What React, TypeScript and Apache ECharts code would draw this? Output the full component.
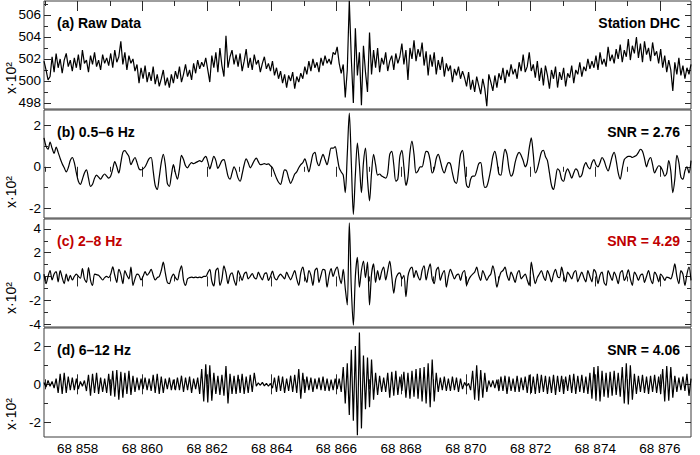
import React, { useEffect, useRef } from "react";
import * as echarts from "echarts";

// ---- time base (seconds) ----
const T0 = 68856.96;
const DT = 0.0625;
const X_MIN = 68856.96;
const X_MAX = 68876.96;
const X_MAJOR = [68858, 68860, 68862, 68864, 68866, 68868, 68870, 68872, 68874, 68876];
const X_MINOR = [68857, 68859, 68861, 68863, 68865, 68867, 68869, 68871, 68873, 68875];

// ---- (a) raw data, x10^2 ----
const RAW = [
  501.8, 501.0, 500.1, 500.4, 502.2, 500.8, 502.5, 501.2, 502.0, 500.7, 501.9, 502.5, 501.3, 501.9, 500.9, 502.1,
  501.2, 502.4, 501.0, 502.8, 501.6, 501.9, 500.8, 502.3, 501.5, 502.6, 501.3, 501.9, 501.0, 502.4, 501.6, 502.1,
  501.4, 502.5, 501.2, 502.8, 501.7, 502.2, 503.6, 501.5, 502.6, 501.0, 502.3, 501.6, 502.0, 500.9, 501.5, 499.8,
  501.2, 500.2, 501.4, 499.9, 500.8, 500.0, 501.3, 499.7, 500.6, 499.5, 500.2, 501.0, 499.6, 500.3, 499.4, 500.6,
  499.8, 500.9, 500.2, 501.3, 499.9, 500.6, 501.5, 500.4, 501.0, 500.1, 501.6, 500.7, 501.9, 501.1, 501.7, 501.3,
  502.1, 501.0, 499.9, 502.3, 501.2, 502.6, 500.8, 503.0, 501.4, 500.4, 504.1, 501.2, 502.2, 502.8, 501.5, 502.4,
  501.3, 502.5, 500.9, 501.8, 502.9, 501.2, 502.1, 501.0, 502.4, 501.5, 501.9, 500.8, 501.6, 502.2, 501.1, 501.6,
  500.9, 501.8, 500.5, 501.2, 500.2, 500.9, 499.8, 500.6, 499.4, 500.5, 500.0, 500.8, 499.3, 500.4, 499.9, 500.7,
  500.2, 501.3, 500.6, 501.8, 500.9, 502.0, 501.2, 501.7, 500.8, 502.1, 501.4, 502.3, 501.6, 502.0, 501.5, 502.6,
  502.4, 503.1, 501.6, 500.7, 501.5, 498.5, 501.0, 507.3, 502.0, 498.0, 504.8, 500.5, 502.6, 497.8, 503.2, 500.8,
  499.0, 504.4, 500.6, 502.8, 501.2, 503.0, 500.8, 502.1, 501.5, 502.6, 500.9, 501.8, 502.3, 501.0, 502.5, 501.6,
  502.2, 503.4, 501.5, 502.8, 500.1, 503.0, 502.0, 503.7, 501.8, 502.9, 502.2, 503.5, 501.4, 502.7, 500.5, 502.4,
  501.3, 502.6, 500.6, 501.9, 501.0, 502.2, 500.4, 501.6, 500.9, 501.4, 499.9, 501.1, 500.5, 501.3, 500.2, 500.9,
  500.3, 499.5, 500.8, 499.2, 500.1, 499.0, 500.4, 499.6, 498.8, 500.2, 499.3, 497.7, 500.6, 499.9, 499.1, 500.5,
  499.4, 500.7, 500.1, 501.2, 499.8, 501.0, 500.4, 501.5, 500.6, 501.1, 500.2, 501.7, 500.9, 502.4, 500.8, 501.3,
  502.6, 500.9, 501.5, 500.3, 501.8, 500.0, 501.2, 499.6, 501.4, 500.5, 499.3, 501.0, 500.2, 501.3, 499.4, 500.8,
  500.1, 501.2, 499.5, 500.7, 500.3, 501.4, 499.8, 501.0, 500.6, 501.7, 500.4, 501.3, 500.9, 502.0, 501.1, 501.8,
  501.2, 502.3, 501.0, 502.6, 501.5, 502.0, 501.3, 503.1, 501.8, 502.4, 501.6, 502.9, 502.0, 503.3, 501.7, 502.8,
  502.2, 503.8, 501.9, 503.2, 502.5, 504.0, 502.1, 503.4, 501.7, 503.6, 502.4, 503.0, 501.8, 503.5, 502.3, 502.7,
  501.6, 502.9, 501.2, 502.3, 500.8, 501.9, 501.0, 499.1, 501.7, 500.6, 502.1, 500.5, 501.4, 500.2, 501.2, 500.6, 501.5,
];

// ---- (b) 0.5–6 Hz ----
const BAND_B = [
  1.4, 1.0, 0.85, 1.2, 0.9, 0.65, 0.95, 0.7, 0.4, 0.15, -0.05, -0.25, -0.05, 0.3, 0.45, 0.2,
  -0.3, -0.7, -0.85, -0.6, -0.3, -0.15, -0.55, -0.95, -0.85, -0.55, -0.4, -0.5, -0.6, -0.45, -0.35, -0.45,
  -0.55, -0.45, -0.1, 0.25, 0.0, -0.3, 0.2, 0.7, 0.78, 0.65, 0.5, 0.1, 0.3, 0.45, 0.2, -0.1,
  -0.15, -0.1, 0.0, 0.2, 0.4, 0.45, -0.2, -0.9, -1.1, -0.5, 0.2, 0.6, 0.1, -0.8, -0.95, -0.4,
  0.1, -0.3, -0.6, -0.1, 0.55, 0.35, 0.05, -0.05, 0.1, 0.2, 0.15, 0.2, 0.25, 0.3, 0.25, 0.4,
  0.5, 0.25, -0.1, 0.2, 0.5, 0.3, -0.08, 0.1, 0.3, 0.35, 0.0, -0.45, -0.6, -0.3, 0.0, -0.2,
  -0.55, -0.7, -0.35, 0.1, 0.38, 0.2, -0.05, 0.1, 0.3, 0.42, 0.25, 0.1, 0.12, 0.15, 0.12, 0.14,
  0.05, -0.05, -0.3, -0.55, -0.75, -0.85, -0.5, -0.15, -0.2, -0.55, -0.8, -0.6, -0.35, -0.25, -0.05, 0.1,
  0.2, 0.38, 0.1, -0.25, 0.15, 0.6, 0.7, 0.25, 0.05, 0.35, 0.6, 0.35, 0.1, 0.5, 0.9, 0.9,
  0.98, 0.5, -0.05, -0.25, -0.4, -1.25, 0.6, 2.6, 0.2, -2.3, -0.4, 1.15, 0.1, -1.25, 0.2, 0.9,
  -0.6, -1.65, -0.3, 0.6, 0.1, -0.4, -0.35, -0.45, -0.5, -0.55, -0.3, 0.6, 0.75, 0.1, -0.7, -0.6,
  0.5, 0.8, 0.0, -0.9, -0.5, 0.7, 1.25, 0.6, -0.3, -0.2, 0.0, 0.0, 0.4, 0.75, 0.7, 0.3,
  -0.3, -0.1, 0.4, 0.6, 0.3, -0.1, -0.3, 0.0, 0.2, 0.15, -0.3, -0.7, -0.8, -0.2, 0.6, 0.8,
  0.0, -0.9, -1.0, -0.6, -0.45, -0.45, -0.2, 0.15, 0.2, -0.5, -1.0, -0.95, -0.6, -0.1, 0.5, 0.75,
  0.3, -0.35, -0.4, 0.3, 0.85, 0.6, -0.1, -0.45, -0.3, 0.2, 0.55, 0.7, 0.55, 0.3, 0.0, 0.2,
  0.9, 1.4, 0.6, -0.3, -0.1, 0.3, 0.7, 0.8, 0.5, 0.3, -0.3, -0.9, -1.1, -0.6, -0.1, -0.2,
  -0.6, -0.7, -0.3, -0.1, -0.3, -0.55, -0.3, -0.1, -0.2, -0.5, -0.4, 0.0, 0.2, 0.0, -0.1, 0.2,
  0.35, 0.1, 0.0, 0.2, 0.45, 0.3, 0.0, -0.2, 0.1, 0.5, 0.7, 0.3, -0.3, -0.6, -0.1, 0.35,
  0.45, 0.5, 0.5, 0.45, 0.5, 0.55, 0.7, 0.85, 0.75, 0.4, 0.0, 0.3, 0.45, 0.1, -0.3, -0.1,
  0.05, 0.0, -0.2, -0.45, -0.3, 0.3, -0.2, -1.25, -0.6, 0.55, 0.2, -0.5, -0.6, -0.2, 0.0, -0.3, 0.3,
];

// ---- (c) 2–8 Hz ----
const BAND_C = [
  0.2, -0.6, 0.0, 0.5, -0.3, 0.2, 0.4, -0.45, 0.5, -0.1, -0.6, 0.2, -0.4, 0.1, -0.3, 0.0,
  0.2, 0.0, -0.15, 0.65, -0.2, -0.5, 0.75, -0.3, -0.75, 0.2, 0.15, 0.1, -0.1, -0.3, -0.1, 0.0,
  -0.1, 0.2, 0.8, 0.1, -0.5, 0.6, 0.2, -0.6, 0.5, 0.1, -0.2, 0.78, -0.75, -0.2, 0.2, 0.1,
  -0.3, 0.0, 0.4, 0.1, 0.3, 0.6, 0.1, -0.3, -0.1, 0.0, 0.5, 1.2, 0.3, -0.5, -0.6, -0.1,
  0.2, -0.1, -0.3, 0.4, 0.9, -0.3, -0.75, -0.2, -0.1, -0.05, -0.1, -0.05, -0.1, -0.05, -0.1, 0.0,
  0.0, 0.3, 0.6, -0.4, -0.8, 0.5, 0.7, -0.75, -0.2, 0.9, 0.3, -0.6, 0.1, 0.3, -0.3, -0.75,
  0.5, 0.1, -0.33, 0.2, 0.36, -0.2, 0.0, 0.25, -0.1, -0.2, 0.36, 0.0, -0.28, 0.2, 0.3, -0.33,
  0.0, 0.45, -0.1, -0.28, 0.0, 0.2, 0.0, -0.2, 0.36, 0.0, -0.28, 0.1, 0.5, -0.2, -0.75, 0.3,
  0.78, 0.0, -0.5, 0.5, 0.1, -0.75, 0.5, 0.7, -0.5, 0.1, 0.6, 0.5, -0.9, 0.1, 0.65, 0.0,
  0.5, 0.78, 0.0, -0.6, 0.6, -1.0, -2.4, 4.5, -1.0, -4.1, 0.0, 1.6, -0.9, 0.5, 1.3, -0.1,
  1.2, -2.4, 0.2, 1.05, -0.5, 0.5, -0.3, 0.4, 0.78, -0.3, 0.5, 1.3, 0.0, -1.4, -0.2, 0.2,
  0.3, -0.2, 0.1, -1.7, 0.0, 0.6, 0.78, -0.1, 0.5, 0.0, -0.3, 0.5, 0.9, -0.3, 0.5, 1.05,
  -0.2, -0.6, 0.5, 0.78, -0.33, 0.2, 0.5, -0.9, 0.0, 0.6, 0.2, -0.2, 0.1, 0.2, -0.33, 0.3,
  0.5, -0.75, -0.3, 0.0, 0.2, 0.36, 0.78, 0.1, -0.33, 0.5, 0.1, -0.33, 0.0, 0.2, 0.9, 0.2,
  -0.9, -0.2, 0.36, 0.5, 0.78, 0.1, -0.33, 0.36, 0.0, -0.5, 0.2, 0.5, -0.2, 0.0, 0.2, -0.3,
  -0.75, 1.2, 0.2, -0.6, -0.1, 0.2, 0.5, 0.0, -0.33, 0.5, 0.1, -0.45, 0.2, 0.6, 0.0, -0.1,
  0.78, 0.1, -0.45, 0.36, 0.1, -0.2, 0.3, 0.5, -0.45, 0.0, 0.36, -0.1, -0.45, 0.5, 0.0, -0.45,
  0.6, 0.3, -0.6, 0.1, 0.36, -0.5, -0.75, 0.5, 0.1, -0.33, 0.36, 0.0, -0.6, 0.3, 0.5, -0.33,
  0.0, 0.55, -0.2, -0.75, 0.36, 0.1, -0.33, 0.1, 0.2, -0.5, 0.0, 0.5, -0.2, -0.6, 0.36, 0.1,
  -0.45, 0.2, 0.0, -0.33, -0.05, -0.1, -0.2, 0.3, 1.05, 0.0, -0.6, 0.5, 0.2, -0.75, 0.2, 0.78, -0.33,
];

// ---- (d) 6–12 Hz ----
const BAND_D = [
  0.1, -0.15, 0.2, -0.1, 0.15, -0.2, 0.3, -0.45, 0.55, -0.5, 0.6, -0.45, 0.4, -0.3, 0.35, -0.3,
  0.3, -0.25, 0.15, -0.1, 0.2, -0.35, 0.5, -0.6, 0.55, -0.45, 0.6, -0.5, 0.35, -0.4, 0.3, -0.45,
  0.55, -0.6, 0.7, -0.65, 0.75, -0.8, 0.65, -0.7, 0.6, -0.5, 0.7, -0.55, 0.45, -0.4, 0.35, -0.3,
  0.3, -0.25, 0.35, -0.3, 0.3, -0.35, 0.5, -0.45, 0.55, -0.5, 0.4, -0.45, 0.3, -0.25, 0.35, -0.3,
  0.25, -0.3, 0.35, -0.3, 0.45, -0.4, 0.35, -0.3, 0.4, -0.45, 0.3, -0.25, 0.35, -0.5, 0.8, -0.9,
  1.05, -0.95, 1.0, -0.85, 0.6, -0.5, 0.45, -0.55, 0.5, -0.6, 0.95, -1.0, 0.55, -0.5, 0.45, -0.5,
  0.5, -0.45, 0.55, -0.5, 0.4, -0.45, 0.5, -0.4, 0.6, -0.1, 0.08, -0.05, 0.1, -0.08, 0.05, -0.1,
  0.05, -0.2, 0.35, -0.4, 0.45, -0.35, 0.4, -0.45, 0.3, -0.35, 0.45, -0.4, 0.5, -0.45, 0.8, -0.75,
  0.6, -0.45, 0.4, -0.3, 0.35, -0.4, 0.3, -0.25, 0.35, -0.3, 0.4, -0.35, 0.3, -0.35, 0.25, -0.3,
  0.3, -0.25, 0.3, -0.4, 0.9, -1.0, 1.1, -1.6, 1.8, -1.9, 2.0, -2.66, 2.7, -2.3, 1.5, -1.3,
  1.4, -1.2, 1.3, -0.8, 0.6, -0.55, 0.45, -0.4, 0.35, -0.4, 0.6, -0.7, 0.65, -0.6, 0.7, -0.55,
  0.4, -0.35, 0.65, -0.7, 0.6, -0.75, 0.7, -0.65, 0.8, -0.75, 0.85, -0.9, 0.9, -1.0, 1.1, -1.2,
  1.3, -0.9, 0.6, -0.4, 0.35, -0.3, 0.4, -0.35, 0.3, -0.35, 0.4, -0.3, 0.35, -0.4, 0.3, -0.25,
  0.1, -0.1, 0.05, -0.3, 0.7, -0.8, 1.0, -0.85, 0.75, -0.7, 0.6, -0.4, 0.2, -0.15, 0.2, -0.2,
  0.25, -0.35, 0.4, -0.35, 0.45, -0.5, 0.4, -0.35, 0.3, -0.4, 0.45, -0.4, 0.35, -0.3, 0.4, -0.45,
  0.5, -0.45, 0.4, -0.5, 0.55, -0.45, 0.5, -0.4, 0.45, -0.5, 0.4, -0.45, 0.5, -0.55, 0.45, -0.4,
  0.45, -0.5, 0.4, -0.35, 0.5, -0.45, 0.55, -0.5, 0.45, -0.4, 0.5, -0.45, 0.4, -0.5, 0.6, -0.75,
  0.9, -0.85, 0.95, -0.9, 0.7, -0.65, 0.6, -0.7, 0.65, -0.6, 0.7, -0.55, 0.6, -0.65, 0.9, -1.0,
  1.1, -1.05, 1.0, -0.8, 0.55, -0.5, 0.45, -0.4, 0.5, -0.45, 0.4, -0.5, 0.45, -0.4, 0.5, -0.45,
  0.4, -0.5, 0.8, -0.9, 0.95, -0.85, 0.9, -0.7, 0.45, -0.4, 0.35, -0.3, 0.4, -0.35, 0.55, -0.6, 0.3,
];

// ---- panel descriptors (text + y ranges) ----
const PANEL_LABELS = ["(a) Raw Data", "(b) 0.5\u20136 Hz", "(c) 2\u20138 Hz", "(d) 6\u201312 Hz"];
const PANEL_RIGHT = ["Station DHC", "SNR = 2.76", "SNR = 4.29", "SNR = 4.06"];
const PANEL_DATA = [RAW, BAND_B, BAND_C, BAND_D];
const Y_MIN = [497.45, -2.48, -4.25, -2.75];
const Y_MAX = [507.27, 2.75, 4.83, 2.94];
const Y_MAJOR = [[498, 500, 502, 504, 506], [-2, 0, 2], [-4, -2, 0, 2, 4], [-2, 0, 2]];
const Y_MINOR = [[499, 501, 503, 505, 507], [-1, 1], [-3, -1, 1, 3], [-1, 1]];
const UNIT_LABEL = "x\u00b710\u00b2";

const GRID_TOP = [1, 110, 219, 328];
const GRID_H = [108, 108, 108, 109];
const UNIT_Y = [78, 192, 298, 414];
const HIGHLIGHT = [false, false, true, false];

const FONT = '"Liberation Sans", Arial, sans-serif';
const AX = "#2a2a2a";

function fmtX(v: number): string {
  const s = String(Math.round(v));
  return s.slice(0, 2) + " " + s.slice(2);
}

function buildOption() {
  const grid: any[] = [];
  const xAxis: any[] = [];
  const yAxis: any[] = [];
  const series: any[] = [];
  const graphic: any[] = [];

  const baseAxis = (extra: any) => ({
    type: "value",
    axisLine: { show: false },
    splitLine: { show: false },
    axisLabel: { show: false },
    ...extra,
  });

  for (let p = 0; p < 4; p++) {
    grid.push({
      left: 44,
      right: 9,
      top: GRID_TOP[p],
      height: GRID_H[p],
      show: true,
      borderColor: "#3c3c3c",
      borderWidth: 1,
      backgroundColor: "transparent",
    });

    const xMain = xAxis.length;
    xAxis.push(baseAxis({
      gridIndex: p, position: "top", min: X_MIN, max: X_MAX,
      axisTick: { show: true, inside: true, length: 10, customValues: X_MAJOR, lineStyle: { color: AX, width: 1 } },
    }));
    xAxis.push(baseAxis({
      gridIndex: p, position: "top", min: X_MIN, max: X_MAX,
      axisTick: { show: true, inside: true, length: 5, customValues: X_MINOR, lineStyle: { color: AX, width: 1 } },
    }));
    if (p === 3) {
      xAxis.push(baseAxis({
        gridIndex: p, position: "bottom", min: X_MIN, max: X_MAX,
        axisTick: { show: true, inside: true, length: 10, customValues: X_MAJOR, lineStyle: { color: AX, width: 1 } },
        axisLabel: {
          show: true, customValues: X_MAJOR, formatter: fmtX, margin: 4,
          fontSize: 13.5, color: "#000", fontFamily: FONT,
        },
      }));
      xAxis.push(baseAxis({
        gridIndex: p, position: "bottom", min: X_MIN, max: X_MAX,
        axisTick: { show: true, inside: true, length: 5, customValues: X_MINOR, lineStyle: { color: AX, width: 1 } },
      }));
    }

    const yMain = yAxis.length;
    yAxis.push(baseAxis({
      gridIndex: p, position: "left", min: Y_MIN[p], max: Y_MAX[p],
      axisTick: { show: true, inside: true, length: 7, customValues: Y_MAJOR[p], lineStyle: { color: AX, width: 1 } },
      axisLabel: {
        show: true, customValues: Y_MAJOR[p], margin: 3,
        fontSize: 13.5, color: "#000", fontFamily: FONT,
      },
    }));
    yAxis.push(baseAxis({
      gridIndex: p, position: "left", min: Y_MIN[p], max: Y_MAX[p],
      axisTick: { show: true, inside: true, length: 4, customValues: Y_MINOR[p], lineStyle: { color: AX, width: 1 } },
    }));
    yAxis.push(baseAxis({
      gridIndex: p, position: "right", min: Y_MIN[p], max: Y_MAX[p],
      axisTick: { show: true, inside: true, length: 6, customValues: Y_MAJOR[p], lineStyle: { color: AX, width: 1 } },
    }));
    yAxis.push(baseAxis({
      gridIndex: p, position: "right", min: Y_MIN[p], max: Y_MAX[p],
      axisTick: { show: true, inside: true, length: 4, customValues: Y_MINOR[p], lineStyle: { color: AX, width: 1 } },
    }));

    series.push({
      type: "line",
      xAxisIndex: xMain,
      yAxisIndex: yMain,
      data: PANEL_DATA[p].map((v, i) => [T0 + i * DT, v]),
      showSymbol: false,
      symbol: "none",
      smooth: p === 1 || p === 2 ? 0.3 : false,
      lineStyle: { color: "#000", width: 1.2 },
      silent: true,
      z: 2,
    });

    const col = HIGHLIGHT[p] ? "#c00000" : "#000";
    const midY = GRID_TOP[p] + 22;
    graphic.push({
      type: "text", x: 57, y: midY, z: 10,
      style: { text: PANEL_LABELS[p], fill: col, font: `bold 14px ${FONT}`, align: "left", verticalAlign: "middle" },
    });
    graphic.push({
      type: "text", x: 680, y: midY, z: 10,
      style: { text: PANEL_RIGHT[p], fill: col, font: `bold 14px ${FONT}`, align: "right", verticalAlign: "middle" },
    });
    graphic.push({
      type: "text", x: 11, y: UNIT_Y[p], rotation: Math.PI / 2, z: 10,
      style: { text: UNIT_LABEL, fill: "#000", font: `14px ${FONT}`, align: "center", verticalAlign: "middle" },
    });
  }

  return {
    animation: false,
    backgroundColor: "#fff",
    grid,
    xAxis,
    yAxis,
    series,
    graphic,
  };
}

export default function App() {
  const ref = useRef<HTMLDivElement>(null);
  useEffect(() => {
    if (!ref.current) return;
    const chart = echarts.init(ref.current, undefined, { renderer: "svg" });
    chart.setOption(buildOption() as any);
    return () => chart.dispose();
  }, []);
  return (
    <div
      ref={ref}
      style={{ position: "absolute", left: 0, top: 0, width: 700, height: 455, background: "#fff" }}
    />
  );
}
